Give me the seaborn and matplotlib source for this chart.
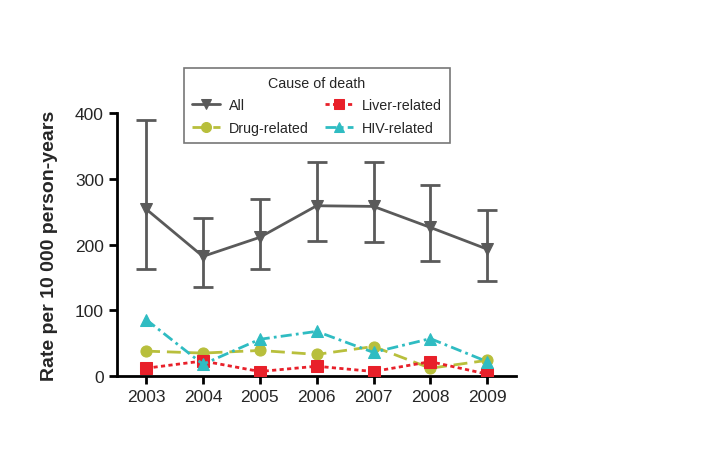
import numpy as np
import pandas as pd
import seaborn as sns
import matplotlib.pyplot as plt

# %% data
years = [2003, 2004, 2005, 2006, 2007, 2008, 2009]
all_rate = [254, 182, 211, 259, 258, 226, 193]
all_low = [163, 136, 163, 205, 204, 175, 145]
all_high = [390, 240, 270, 325, 326, 291, 253]
drug_rate = [38, 35, 39, 33, 45, 12, 24]
liver_rate = [12, 23, 7, 15, 7, 22, 3]
hiv_rate = [86, 18, 56, 68, 36, 57, 22]

# %% style
sns.set_style('ticks')
plt.rcParams['font.family'] = ['Liberation Sans', 'DejaVu Sans']

fig = plt.figure(figsize=(7.14, 4.56), dpi=100)
ax = fig.add_axes([0.164, 0.173, 0.559, 0.577])

series = [
    ('All', all_rate, '#5a5a5a', 'v', (None, None)),
    ('Drug-related', drug_rate, '#b8bf3c', 'o', (5, 2.5)),
    ('Liver-related', liver_rate, '#e8202a', 's', (1.5, 1.2)),
    ('HIV-related', hiv_rate, '#2fbcc2', '^', (4, 1.5, 1, 1.5)),
]

for name, vals, color, marker, dash in series:
    df = pd.DataFrame({'year': years, 'rate': vals})
    kw = {} if dash[0] is None else {'dashes': dash}
    sns.lineplot(data=df, x='year', y='rate', ax=ax, color=color,
                 marker=marker, markersize=8, markeredgecolor=color,
                 linewidth=2, label=name, zorder=3, **kw)

# error bars for All
err = [np.array(all_rate) - np.array(all_low),
       np.array(all_high) - np.array(all_rate)]
ax.errorbar(years, all_rate, yerr=err, fmt='none', ecolor='#5a5a5a',
            elinewidth=2, capsize=7, capthick=2, zorder=2)

ax.set_xlim(2003 - 0.51, 2009 + 0.51)
ax.set_ylim(0, 400)
ax.set_xticks(years)
ax.set_yticks([0, 100, 200, 300, 400])
ax.set_xlabel('')
ax.set_ylabel('Rate per 10 000 person-years', fontsize=14,
              fontweight='bold', labelpad=12)
ax.tick_params(labelsize=12.5, width=2, length=6, color='black')
for s in ['left', 'bottom']:
    ax.spines[s].set_linewidth(2)
    ax.spines[s].set_color('black')
sns.despine(ax=ax)

h, l = ax.get_legend_handles_labels()
leg = ax.legend(h, l, title='Cause of death', ncol=2, fontsize=10.3,
                title_fontsize=10.3, loc='upper left',
                bbox_to_anchor=(184 / 714, 1 - 69 / 456),
                bbox_transform=fig.transFigure, frameon=True,
                fancybox=False, edgecolor='#555555', handlelength=2.0,
                handletextpad=0.6, columnspacing=1.1, borderpad=0.55,
                labelspacing=0.6, markerscale=0.9, borderaxespad=0)
leg.get_frame().set_linewidth(1.2)

fig.savefig('out.png', dpi=100)
